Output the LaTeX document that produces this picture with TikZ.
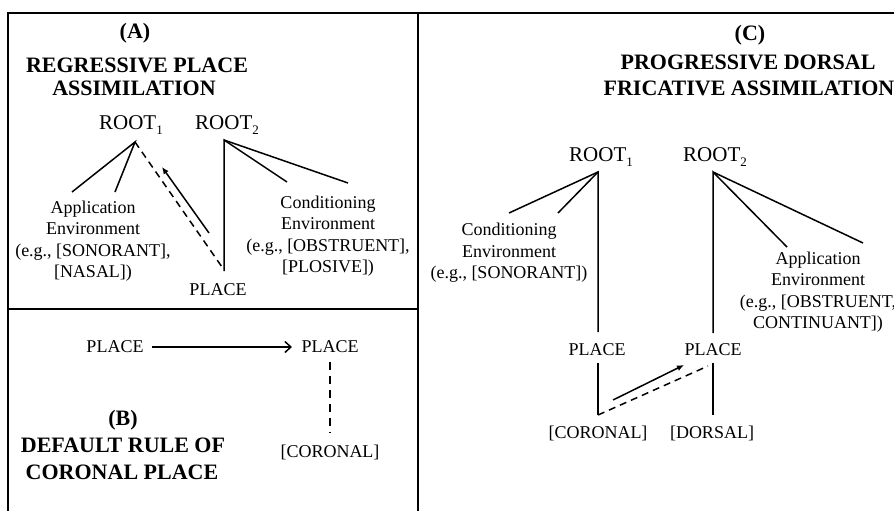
\documentclass[tikz,border=0pt]{standalone}
\usepackage{fontspec}
\setmainfont{Liberation Serif}
\usetikzlibrary{arrows.meta}
\newcommand{\rootlbl}[1]{ROOT\raisebox{-0.45ex}{\fontsize{13}{13}\selectfont #1}}
\begin{document}
\begin{tikzpicture}[x=1pt,y=-1pt,
  lbl/.style={inner sep=0pt,align=center,font=\fontsize{18}{21.5}\selectfont},
  rootnode/.style={inner sep=0pt,font=\fontsize{21}{24}\selectfont},
  ttl/.style={inner sep=0pt,align=center,font=\fontsize{22}{26}\selectfont\bfseries},
  frame/.style={line width=2pt},
  link/.style={line width=1.5pt},
  dlink/.style={line width=1.5pt,dash pattern=on 7pt off 5pt},
  spread/.style={line width=1.5pt,-{Latex[length=7pt,width=6pt]}},
  rulearrow/.style={line width=1.5pt,-{Straight Barb[length=6pt,width=11pt,line width=1.5pt]}}]
\useasboundingbox (0,0) rectangle (894,511);
\clip (0,0) rectangle (894,511);
% frame
\coordinate (fbl) at (8,520);
\coordinate (ftl) at (8,13);
\coordinate (ftr) at (900,13);
\coordinate (dtop) at (418,13);
\coordinate (dbot) at (418,520);
\coordinate (hl) at (8,309);
\coordinate (hr) at (418,309);
\draw[frame] (fbl) -- (ftl) -- (ftr);
\draw[frame] (dtop) -- (dbot);
\draw[frame] (hl) -- (hr);

% ---------- Panel A ----------
\node[ttl] (tA) at (135,33) {(A)};
\node[ttl] (tA2) at (137,65) {REGRESSIVE PLACE};
\node[ttl] (tA3) at (134,88) {ASSIMILATION};
\node[rootnode] (aR1) at (131,125) {\rootlbl{1}};
\node[rootnode] (aR2) at (227,125) {\rootlbl{2}};
\coordinate (a1) at (135,142);
\coordinate (a1l) at (72,192);
\coordinate (a1r) at (115,192);
\coordinate (a2) at (224,140);
\coordinate (a2v) at (224,271);
\coordinate (a2m) at (287,182);
\coordinate (a2r) at (348,183);
\coordinate (apl) at (222,267);
\coordinate (aarS) at (209,233);
\coordinate (aarE) at (162,167);
\node[lbl] (aApp) at (93,241) {Application\\Environment\\(e.g., [SONORANT],\\{[NASAL])}};
\node[lbl] (aCond) at (328,236) {Conditioning\\Environment\\(e.g., [OBSTRUENT],\\{[PLOSIVE])}};
\node[lbl] (aPlace) at (218,290) {PLACE};
\draw[link] (a1l) -- (a1) -- (a1r);
\draw[dlink] (a1) -- (apl);
\draw[spread] (aarS) -- (aarE);
\draw[link] (a2v) -- (a2) -- (a2m);
\draw[link] (a2) -- (a2r);

% ---------- Panel B ----------
\node[lbl] (bP1) at (115,347) {PLACE};
\node[lbl] (bP2) at (330,347) {PLACE};
\node[lbl] (bCor) at (330,452) {[CORONAL]};
\coordinate (bs) at (152,347);
\coordinate (be) at (292,347);
\coordinate (bd1) at (330,362);
\coordinate (bd2) at (330,433);
\draw[rulearrow] (bs) -- (be);
\draw[line width=1.5pt,dash pattern=on 8pt off 6pt] (bd1) -- (bd2);
\node[ttl] (tB) at (123,420) {(B)};
\node[ttl] (tB2) at (123,445) {DEFAULT RULE OF};
\node[ttl] (tB3) at (122,472) {CORONAL PLACE};

% ---------- Panel C ----------
\node[ttl] (tC) at (750,35) {(C)};
\node[ttl] (tC2) at (748,62) {PROGRESSIVE DORSAL};
\node[ttl] (tC3) at (749,88) {FRICATIVE ASSIMILATION};
\node[rootnode] (cR1) at (601,157) {\rootlbl{1}};
\node[rootnode] (cR2) at (715,157) {\rootlbl{2}};
\coordinate (c1) at (598,172);
\coordinate (c1l) at (509,213);
\coordinate (c1r) at (558,213);
\coordinate (c1v) at (598,332);
\coordinate (c2) at (713,172);
\coordinate (c2v) at (713,333);
\coordinate (c2m) at (787,247);
\coordinate (c2r) at (863,243);
\node[lbl] (cCond) at (509,253) {Conditioning\\Environment\\(e.g., [SONORANT])};
\node[lbl] (cApp) at (818,292) {Application\\Environment\\(e.g., [OBSTRUENT,\\CONTINUANT])};
\draw[link] (c1l) -- (c1) -- (c1v);
\draw[link] (c1) -- (c1r);
\draw[link] (c2v) -- (c2) -- (c2m);
\draw[link] (c2) -- (c2r);
\node[lbl] (cP1) at (597,350) {PLACE};
\node[lbl] (cP2) at (713,350) {PLACE};
\node[lbl] (cCor) at (598,433) {[CORONAL]};
\node[lbl] (cDor) at (712,433) {[DORSAL]};
\coordinate (cl1) at (598,363);
\coordinate (cl2) at (598,415);
\coordinate (cr1) at (713,363);
\coordinate (cr2) at (713,415);
\coordinate (cdE) at (708,366);
\coordinate (caS) at (613,400);
\coordinate (caE) at (684,365);
\draw[link] (cl1) -- (cl2);
\draw[link] (cr1) -- (cr2);
\draw[line width=1.5pt,dash pattern=on 7pt off 5pt] (cl2) -- (cdE);
\draw[spread] (caS) -- (caE);
\end{tikzpicture}
\end{document}
